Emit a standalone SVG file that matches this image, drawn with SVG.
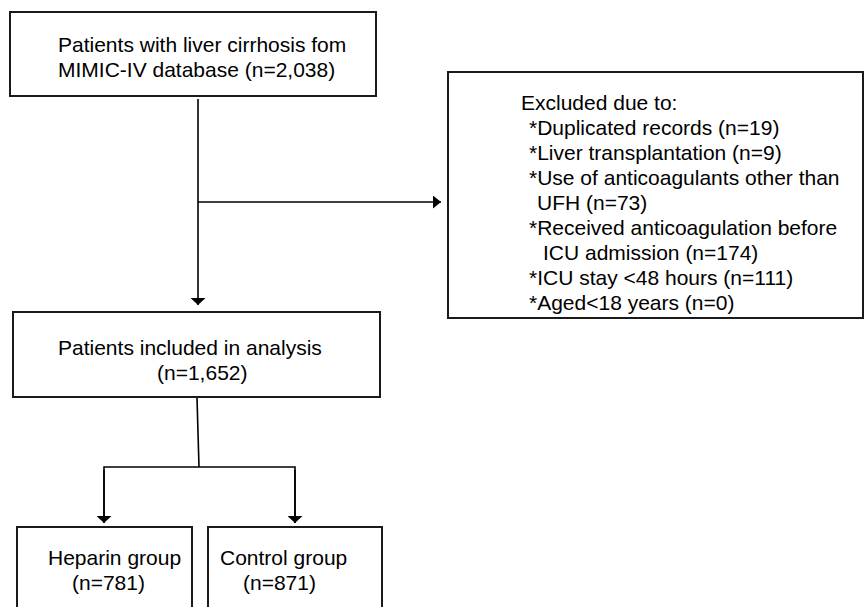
<svg xmlns="http://www.w3.org/2000/svg" width="864" height="607" viewBox="0 0 864 607">
<defs>
<style>
.box{fill:#fff;stroke:#1a1a1a;stroke-width:2}
.t{font-family:"Liberation Sans",Arial,sans-serif;font-size:21px;fill:#000}
.ln{fill:none;stroke:#000;stroke-width:1.6}
</style>
<marker id="ah" markerUnits="userSpaceOnUse" markerWidth="8" markerHeight="13" viewBox="0 0 8 13" refX="8" refY="6.5" orient="auto">
<path d="M0,0 L8,6.5 L0,13 Z" fill="#000"/>
</marker>
<marker id="ahd" markerUnits="userSpaceOnUse" markerWidth="7" markerHeight="15" viewBox="0 0 7 15" refX="7" refY="7.5" orient="auto">
<path d="M0,0 L7,7.5 L0,15 Z" fill="#000"/>
</marker>
</defs>
<rect width="864" height="607" fill="#fff"/>
<g id="connectors">
<line class="ln" x1="198" y1="99" x2="198" y2="305" marker-end="url(#ahd)"/>
<line class="ln" x1="198" y1="202" x2="441" y2="202" marker-end="url(#ah)"/>
<line class="ln" x1="197" y1="398" x2="199" y2="467"/>
<polyline class="ln" points="104,523 104,467 295,467 295,523"/>
<line class="ln" x1="104" y1="470" x2="104" y2="523" marker-end="url(#ahd)"/>
<line class="ln" x1="295" y1="470" x2="295" y2="523" marker-end="url(#ahd)"/>
</g>
<g id="source">
<rect class="box" x="10" y="12" width="366" height="84"/>
<text class="t" x="58" y="52">Patients with liver cirrhosis fom</text>
<text class="t" x="58" y="77">MIMIC-IV database (n=2,038)</text>
</g>
<g id="excluded">
<rect class="box" x="448" y="72" width="415" height="246"/>
<text class="t" x="521" y="110">Excluded due to:</text>
<text class="t" x="529" y="135">*Duplicated records (n=19)</text>
<text class="t" x="529" y="160">*Liver transplantation (n=9)</text>
<text class="t" x="529" y="185">*Use of anticoagulants other than</text>
<text class="t" x="537" y="210">UFH (n=73)</text>
<text class="t" x="529" y="235">*Received anticoagulation before</text>
<text class="t" x="543" y="260">ICU admission (n=174)</text>
<text class="t" x="529" y="285">*ICU stay &lt;48 hours (n=111)</text>
<text class="t" x="529" y="310">*Aged&lt;18 years (n=0)</text>
</g>
<g id="included">
<rect class="box" x="13" y="312" width="367" height="85"/>
<text class="t" x="58" y="355">Patients included in analysis</text>
<text class="t" x="157" y="380">(n=1,652)</text>
</g>
<g id="heparin">
<rect class="box" x="17" y="527" width="175" height="90"/>
<text class="t" x="48" y="565">Heparin group</text>
<text class="t" x="72" y="590">(n=781)</text>
</g>
<g id="control">
<rect class="box" x="208" y="527" width="174" height="90"/>
<text class="t" x="220" y="565">Control group</text>
<text class="t" x="243" y="590">(n=871)</text>
</g>
</svg>
